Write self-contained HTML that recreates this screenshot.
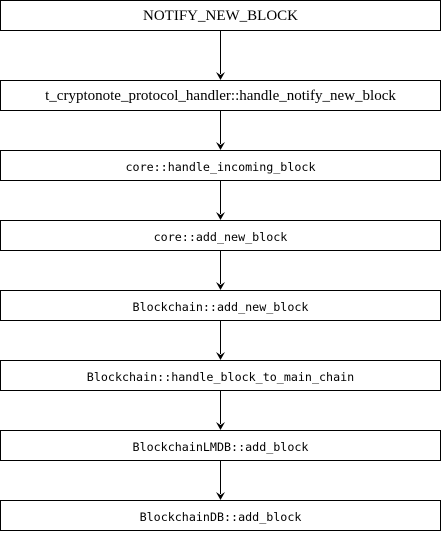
<!DOCTYPE html>
<html><head><style>
html,body{margin:0;padding:0;background:#fff;width:441px;height:534px;overflow:hidden;position:relative}
.b{position:absolute;left:0;width:439px;height:27px;padding-top:2px;border:1px solid #000;box-sizing:content-box;display:flex;align-items:center;justify-content:center;color:#000;white-space:nowrap}
.s{font-family:"Liberation Serif",serif;font-size:15px}
.m{font-family:"DejaVu Sans Mono","Liberation Mono",monospace;font-size:11.7px}
svg{position:absolute;left:0;top:0}
</style></head><body>
<svg width="441" height="534">
<g stroke="#000" stroke-width="1">
<line x1="220.5" y1="31" x2="220.5" y2="74"/>
<line x1="220.5" y1="111" x2="220.5" y2="144"/>
<line x1="220.5" y1="181" x2="220.5" y2="214"/>
<line x1="220.5" y1="251" x2="220.5" y2="284"/>
<line x1="220.5" y1="321" x2="220.5" y2="354"/>
<line x1="220.5" y1="391" x2="220.5" y2="424"/>
<line x1="220.5" y1="461" x2="220.5" y2="494"/>
</g>
<g fill="#000">
<path d="M216 72 L220.5 80 L225 72 L220.5 75 Z"/>
<path d="M216 142 L220.5 150 L225 142 L220.5 145 Z"/>
<path d="M216 212 L220.5 220 L225 212 L220.5 215 Z"/>
<path d="M216 282 L220.5 290 L225 282 L220.5 285 Z"/>
<path d="M216 352 L220.5 360 L225 352 L220.5 355 Z"/>
<path d="M216 422 L220.5 430 L225 422 L220.5 425 Z"/>
<path d="M216 492 L220.5 500 L225 492 L220.5 495 Z"/>
</g>
</svg>
<div class="b s" style="top:0">NOTIFY_NEW_BLOCK</div>
<div class="b s" style="top:80px">t_cryptonote_protocol_handler::handle_notify_new_block</div>
<div class="b m" style="top:150px">core::handle_incoming_block</div>
<div class="b m" style="top:220px">core::add_new_block</div>
<div class="b m" style="top:290px">Blockchain::add_new_block</div>
<div class="b m" style="top:360px">Blockchain::handle_block_to_main_chain</div>
<div class="b m" style="top:430px">BlockchainLMDB::add_block</div>
<div class="b m" style="top:500px">BlockchainDB::add_block</div>
</body></html>
